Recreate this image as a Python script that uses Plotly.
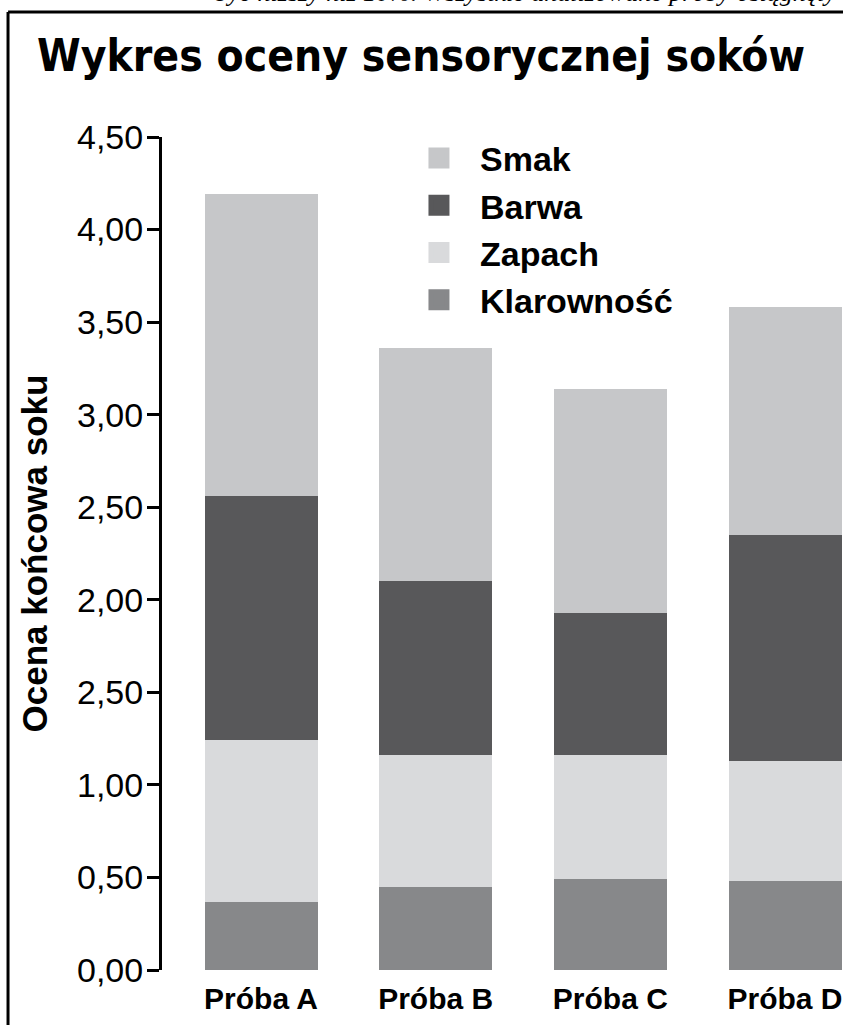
import plotly.graph_objects as go

categories = ["Próba A", "Próba B", "Próba C", "Próba D"]
klarownosc = [0.37, 0.45, 0.49, 0.48]
zapach = [0.87, 0.71, 0.67, 0.65]
barwa = [1.32, 0.94, 0.77, 1.22]
smak = [1.63, 1.26, 1.21, 1.23]

series_names = ["Klarowność", "Zapach", "Barwa", "Smak"]
series_values = [klarownosc, zapach, barwa, smak]
series_colors = ["#87888a", "#d9dadc", "#58585a", "#c6c7c9"]

y_tickvals = [0, 0.5, 1.0, 1.5, 2.0, 2.5, 3.0, 3.5, 4.0, 4.5]
y_ticktext = ["0,00", "0,50", "1,00", "2,50", "2,00", "2,50", "3,00", "3,50", "4,00", "4,50"]

title_text = "Wykres oceny sensorycznej soków"
y_title = "Ocena końcowa soku"
top_text = "bye niższy niż 10%. Wszystkie analizowane próby osiągnęły"

FONT = "Liberation Sans, Arial, sans-serif"

fig = go.Figure()
for name, vals, col in zip(series_names, series_values, series_colors):
    fig.add_trace(go.Bar(x=categories, y=vals, name=name, marker_color=col,
                         marker_line_width=0, width=0.647, showlegend=False))

# legend entries (large square symbols), top-to-bottom order
for name, col in zip(series_names[::-1], series_colors[::-1]):
    fig.add_trace(go.Scatter(x=[None], y=[None], mode="markers", name=name,
                             legendgroup=name,
                             marker=dict(symbol="square", size=16, color=col,
                                         line=dict(color=col, width=5))))

fig.update_layout(
    width=843, height=1025,
    margin=dict(l=162, r=0, t=137, b=55),
    paper_bgcolor="white", plot_bgcolor="white",
    barmode="stack", bargap=0,
    font=dict(family=FONT, color="black"),
    showlegend=True,
    legend=dict(x=0.3465, y=1.0090, xanchor="left", yanchor="top",
                itemwidth=72, tracegroupgap=0, traceorder="grouped",
                font=dict(family=FONT, size=34, color="black", weight="bold"),
                bgcolor="rgba(0,0,0,0)"),
)

fig.update_xaxes(range=[-0.567, 3.332], showline=False, showgrid=False,
                 zeroline=False, ticks="",
                 tickfont=dict(family=FONT, size=30, weight="bold"),
                 ticklabelstandoff=8)
fig.update_yaxes(range=[0, 4.5], tickvals=y_tickvals, ticktext=y_ticktext,
                 showline=True, linewidth=3, linecolor="black",
                 showgrid=False, zeroline=False,
                 ticks="outside", ticklen=12, tickwidth=3, tickcolor="black",
                 tickfont=dict(family=FONT, size=34),
                 ticklabelstandoff=-3,
                 title=dict(text=y_title, standoff=19,
                            font=dict(family=FONT, size=35, weight="bold")))

# page frame
fig.add_shape(type="line", xref="paper", yref="paper", x0=-0.226, x1=1.05,
              y0=1.1501, y1=1.1501, line=dict(color="black", width=3))
fig.add_shape(type="line", xref="paper", yref="paper", x0=-0.2261, x1=-0.2261,
              y0=1.1501, y1=-0.1, line=dict(color="black", width=3))

fig.add_annotation(text=title_text, xref="paper", yref="paper",
                   x=0.3803, y=1.0984, xanchor="center", yanchor="middle",
                   showarrow=False,
                   font=dict(family="DejaVu Sans Condensed, DejaVu Sans", size=44,
                             weight="bold", color="black"))
fig.add_annotation(text=top_text, xref="paper", yref="paper",
                   x=0.0749, y=1.1537, xanchor="left", yanchor="bottom",
                   showarrow=False,
                   font=dict(family="Liberation Serif, serif", size=26,
                             style="italic", color="black"))

fig.write_html("out.html", config={"displayModeBar": False},
               post_script="document.body.style.margin='0';")
